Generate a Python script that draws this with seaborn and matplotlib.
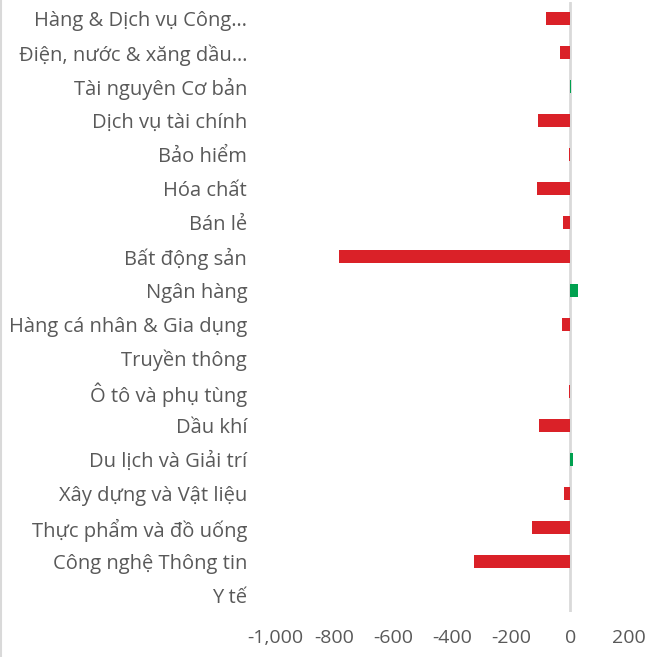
import pandas as pd
import matplotlib.pyplot as plt
import seaborn as sns
from matplotlib.lines import Line2D
from matplotlib.ticker import FuncFormatter

sectors = ["Hàng & Dịch vụ Công…", "Điện, nước & xăng dầu…", "Tài nguyên Cơ bản",
           "Dịch vụ tài chính", "Bảo hiểm", "Hóa chất", "Bán lẻ", "Bất động sản",
           "Ngân hàng", "Hàng cá nhân & Gia dụng", "Truyền thông", "Ô tô và phụ tùng",
           "Dầu khí", "Du lịch và Giải trí", "Xây dựng và Vật liệu",
           "Thực phẩm và đồ uống", "Công nghệ Thông tin", "Y tế"]
values = [-81, -34, 4, -108, -3, -112, -24, -783, 25, -27, 0, -3,
          -105, 8, -20, -129, -325, 0]
x_ticks = [-1000, -800, -600, -400, -200, 0, 200]

sns.set_theme(style="white")
plt.rcParams["font.family"] = ["Open Sans", "DejaVu Sans"]

df = pd.DataFrame({"sector": sectors, "value": values})
df["sign"] = ["pos" if v > 0 else "neg" for v in df["value"]]

fig = plt.figure(figsize=(6.5, 6.57), dpi=100)
ax = fig.add_axes([0.423, 0.068, 0.545, 0.929])

sns.barplot(data=df, y="sector", x="value", hue="sign", order=sectors,
            palette={"neg": "#DA2128", "pos": "#00A04F"}, orient="h",
            width=0.38, dodge=False, legend=False, ax=ax, saturation=1,
            linewidth=0, zorder=2)

ax.axvline(0, color="#D9D9D9", lw=2, zorder=1)
ax.set_xlim(-1000, 200)
ax.set_xticks(x_ticks)
ax.xaxis.set_major_formatter(FuncFormatter(lambda v, p: f"{int(v):,}"))
ax.set_xlabel("")
ax.set_ylabel("")
for s in ax.spines.values():
    s.set_visible(False)
ax.tick_params(axis="y", length=0, pad=20, labelsize=14.5, labelcolor="#595959")
ax.tick_params(axis="x", length=0, pad=12, labelsize=14, labelcolor="#595959")

fig.add_artist(Line2D([0.002, 0.002], [0, 1], color="#D9D9D9", lw=1.5,
                      transform=fig.transFigure))

plt.savefig("out.png", dpi=100)
